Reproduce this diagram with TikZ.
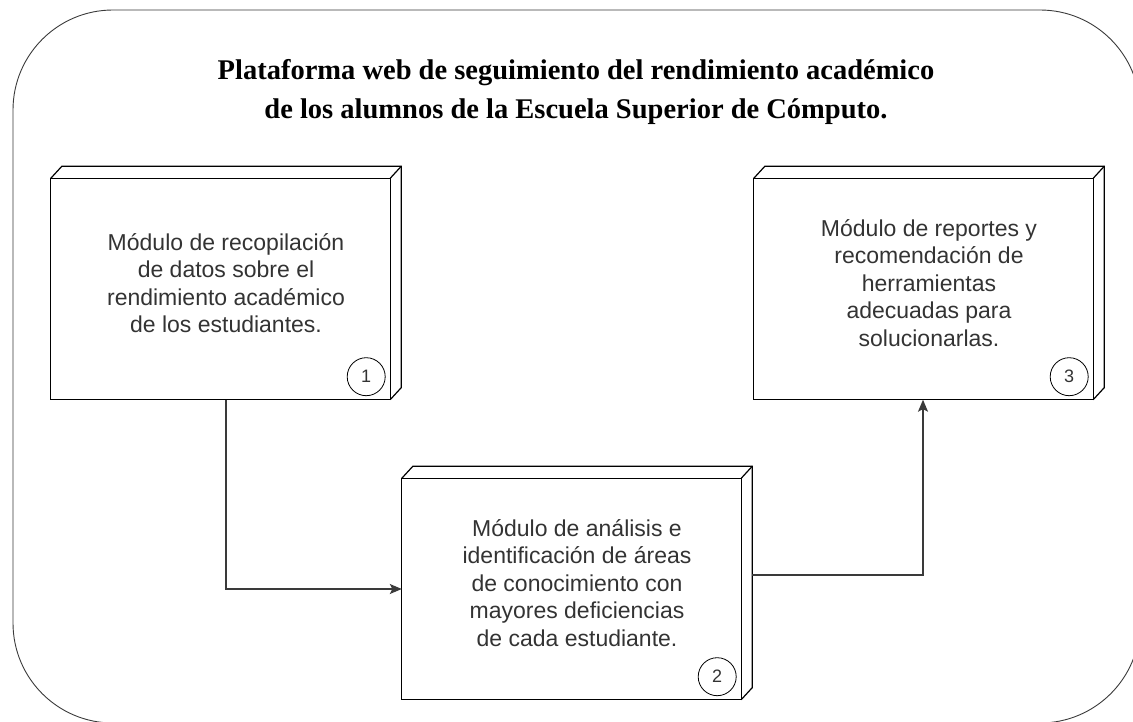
\documentclass[tikz,border=0pt]{standalone}
\usepackage{fontspec}
\setmainfont{Liberation Serif}
\newfontfamily\arialfont{Liberation Sans}
\usetikzlibrary{arrows.meta}
\definecolor{textogris}{HTML}{333333}
\definecolor{lineagris}{HTML}{3A3A3A}
\tikzset{
  modulo/.style={minimum width=350pt, minimum height=233pt, inner sep=0pt, align=center,
    text=textogris, font=\arialfont\fontsize{23}{27.5}\selectfont},
  cara/.style={line width=1.2pt, line join=miter},
  numero/.style={draw, circle, minimum size=38pt, inner sep=0pt, line width=0.8pt,
    text=textogris, font=\arialfont\fontsize{18}{18}\selectfont},
  flecha/.style={line width=1.2pt, draw=lineagris, -{Stealth[length=12pt,width=10pt,inset=2.5pt]}},
}
%% front face, top face and side face round a module node
\newcommand{\cubo}[1]{%
  \draw[cara] (#1.south west) rectangle ([xshift=-11pt,yshift=-12pt]#1.north east);
  \draw[cara] ([yshift=-12pt]#1.north west) -- ([xshift=11pt]#1.north west)
    -- (#1.north east) -- ([yshift=12pt]#1.south east) -- ([xshift=-11pt]#1.south east);
  \draw[cara] ([xshift=-11pt,yshift=-12pt]#1.north east) -- (#1.north east);
}
\begin{document}
\begin{tikzpicture}[x=1pt,y=-1pt]
        \useasboundingbox (0,0) rectangle (1133,722);
        \clip (0,0) rectangle (1133,722);
        %% frame
        \draw[lineagris,line width=0.9pt,rounded corners=100pt] (13,10) rectangle (1140,723);
        %% title
        \node[align=center,font=\bfseries\fontsize{28.5}{37}\selectfont] (titulo) at (576,92)
            {Plataforma web de seguimiento del rendimiento académico\\[2pt]
             de los alumnos de la Escuela Superior de Cómputo.};
        %% three modules
        \node[modulo] (m1) at (226,283) {Módulo de recopilación\\de datos sobre el\\rendimiento académico\\de los estudiantes.};
        \node[modulo] (m2) at (577,583) {Módulo de análisis e\\identificación de áreas\\de conocimiento con\\mayores deficiencias\\de cada estudiante.};
        \node[modulo] (m3) at (929,283) {Módulo de reportes y\\recomendación de\\herramientas\\adecuadas para\\solucionarlas.};
        \cubo{m1}
        \cubo{m2}
        \cubo{m3}
        %% numbers
        \node[numero] (n1) at ([xshift=-35pt,yshift=23pt]m1.south east) {1};
        \node[numero] (n2) at ([xshift=-35pt,yshift=23pt]m2.south east) {2};
        \node[numero] (n3) at ([xshift=-35pt,yshift=23pt]m3.south east) {3};
        %% connect
        \draw[flecha] (m1.south) |- ([yshift=-6pt]m2.west);
        \draw[flecha] ([yshift=8pt]m2.east) -| ([xshift=-6pt]m3.south);
    \end{tikzpicture}
\end{document}
